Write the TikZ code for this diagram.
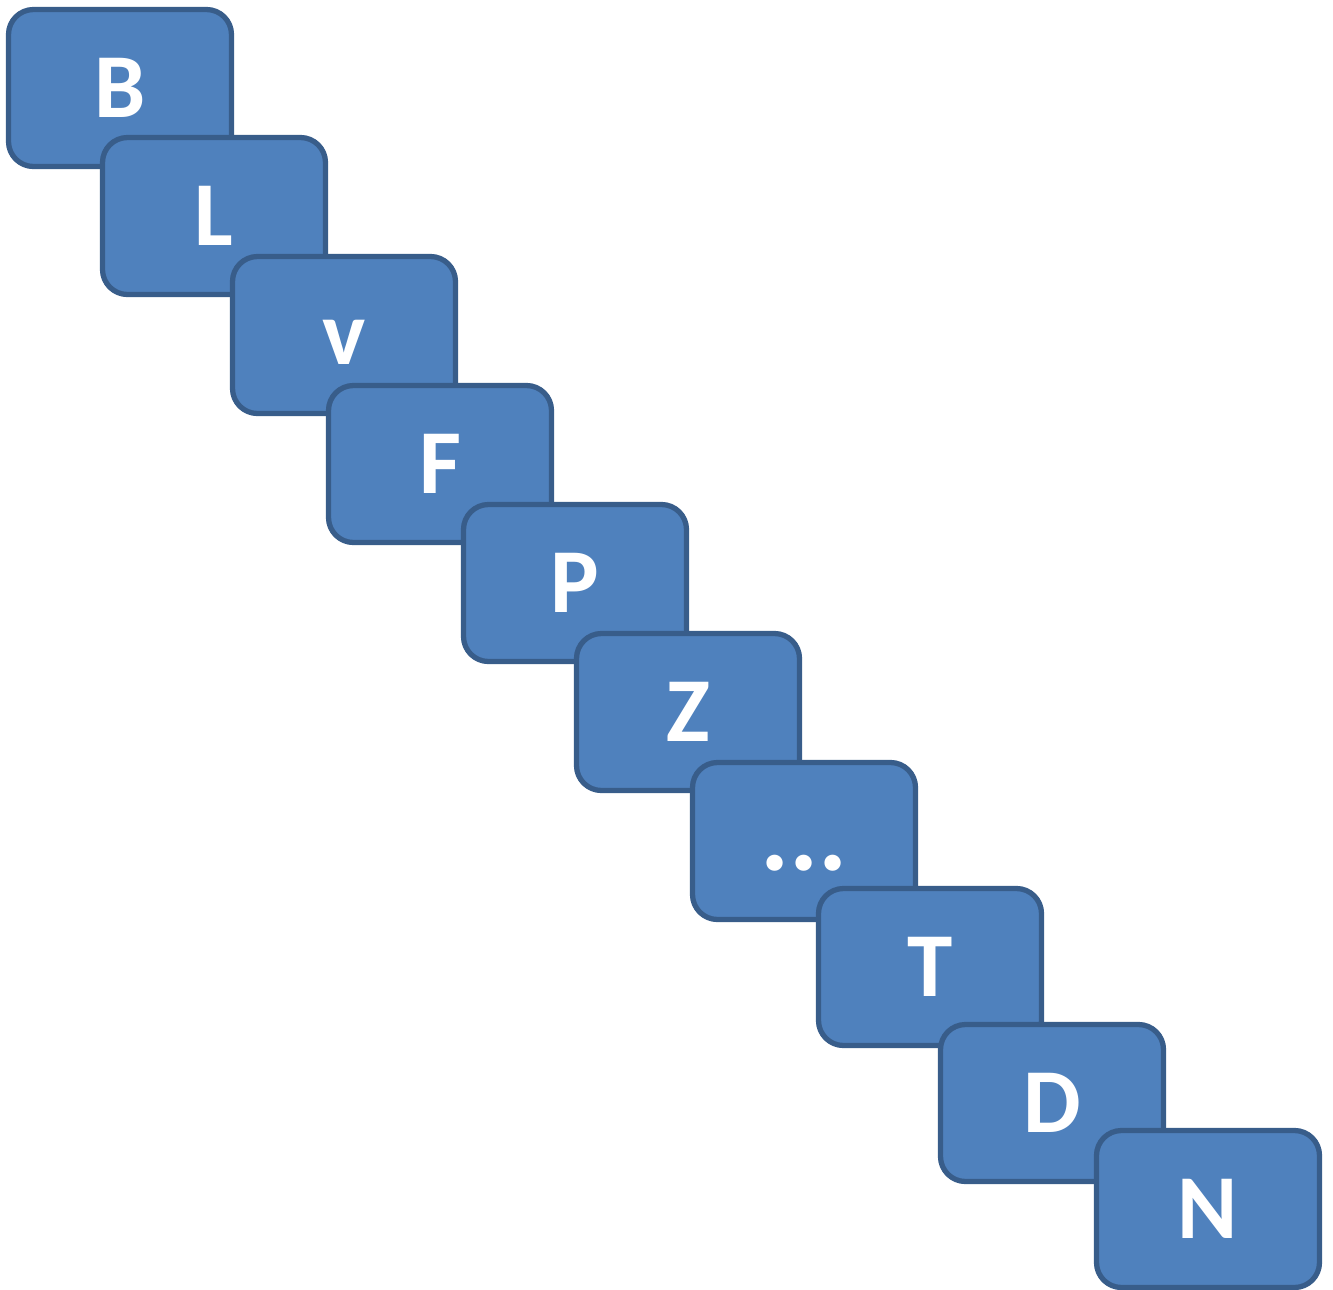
\documentclass[tikz,border=0pt]{standalone}
\usepackage{fontspec}
\setmainfont{Carlito}
\usetikzlibrary{positioning}

\definecolor{boxfill}{HTML}{4F81BD}
\definecolor{boxline}{HTML}{385D8A}

\tikzset{
  card/.style={draw=boxline, fill=boxfill, line width=1.5pt,
    rounded corners=0.25cm, minimum width=2.23cm, minimum height=1.57cm,
    text=white, font=\fontsize{26}{26}\selectfont\bfseries,
    text height=0.59cm, text depth=0pt, inner sep=0pt}
}

\begin{document}
\begin{tikzpicture}
  \useasboundingbox (0,0) rectangle (13.33,-12.89);
  \node[card] (b)    at (1.20,-0.88)   {B};
  \node[card] (l)    at (2.14,-2.16)   {L};
  \node[card] (v)    at (3.44,-3.35)   {v};
  \node[card] (f)    at (4.40,-4.64)   {F};
  \node[card] (p)    at (5.75,-5.83)   {P};
  \node[card] (z)    at (6.88,-7.12)   {Z};
  \node[card] (dots) at (8.04,-8.41)   {\fontsize{31}{31}\selectfont\bfseries ...};
  \node[card] (t)    at (9.30,-9.67)   {T};
  \node[card] (d)    at (10.52,-11.03) {D};
  \node[card] (n)    at (12.08,-12.09) {N};
\end{tikzpicture}
\end{document}
